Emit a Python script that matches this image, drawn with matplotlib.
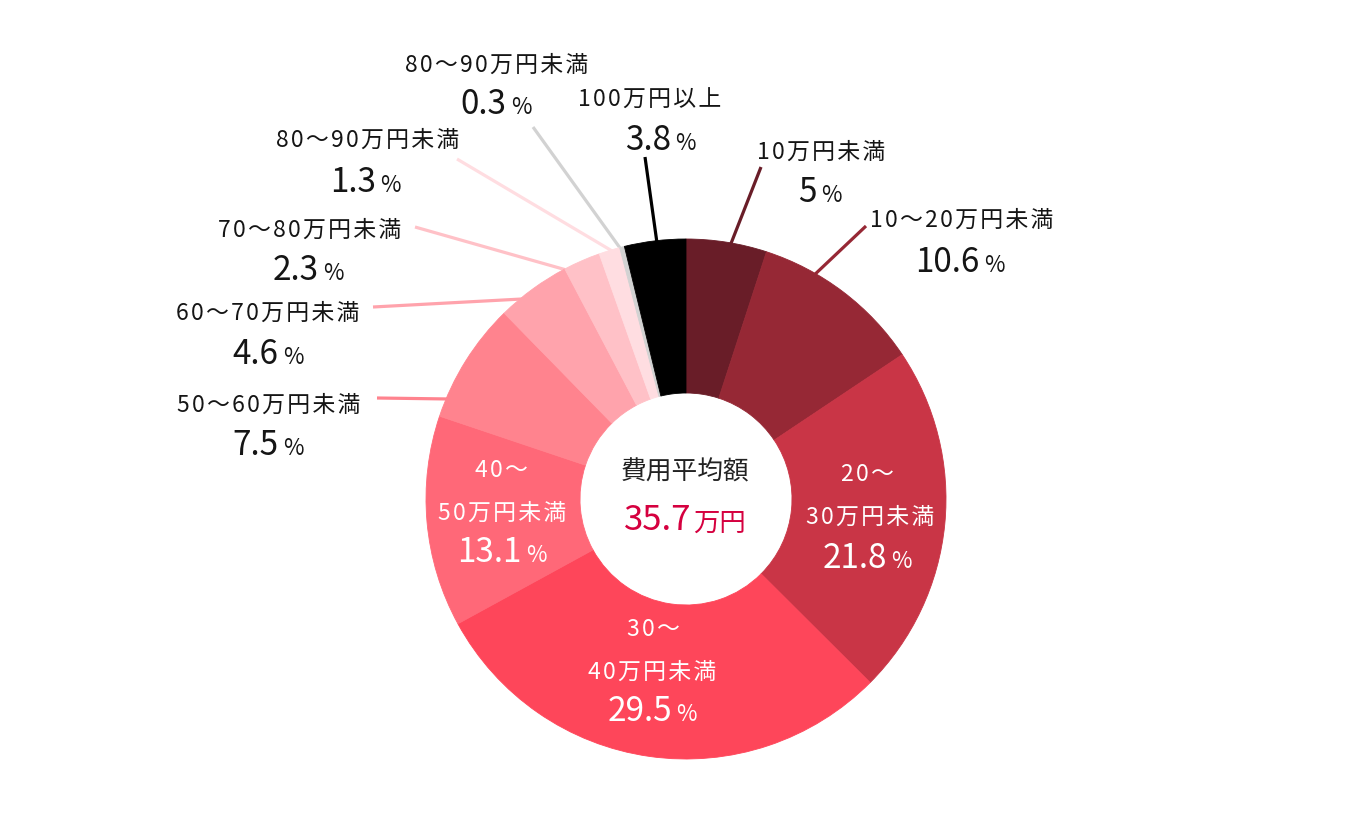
import numpy as np
import matplotlib
matplotlib.use("Agg")
import matplotlib.pyplot as plt
from matplotlib.offsetbox import TextArea, HPacker, AnnotationBbox

plt.rcParams['font.family'] = ['Noto Sans CJK JP', 'DejaVu Sans']

# data
categories = ["10万円未満", "10～20万円未満", "20～30万円未満", "30～40万円未満",
              "40～50万円未満", "50～60万円未満", "60～70万円未満", "70～80万円未満",
              "80～90万円未満", "80～90万円未満", "100万円以上"]
shares = [5, 10.6, 21.8, 29.5, 13.1, 7.5, 4.6, 2.3, 1.3, 0.3, 3.8]
colors = ["#691D28", "#962835", "#C93546", "#FE465A", "#FF6878", "#FF838E",
          "#FFA3AC", "#FFC1C7", "#FFDDE1", "#D2D2D2", "#000000"]
avg_title = "費用平均額"
avg_value = 35.7
avg_unit = "万円"

W, H = 1370, 820
CX, CY = 686, 500          # donut centre (pixels, y down)
R_OUT, R_IN = 260, 106
TXT = "#151515"
RED = "#D5003F"
LBL = 16.5


def P(x, y):
    # picture coords (y down) -> axes coords (y up)
    return x, H - y


def spaced(s):
    # the reference uses slightly loose letter spacing
    return "\u200a".join(s)


fig = plt.figure(figsize=(W / 100, H / 100), dpi=100)
ax = fig.add_axes([0, 0, 1, 1])

wedges, _ = ax.pie(shares, colors=colors, startangle=90, counterclock=False,
                   radius=R_OUT, center=P(CX, CY),
                   wedgeprops=dict(width=R_OUT - R_IN, linewidth=0.6, zorder=3))
for w, c in zip(wedges, colors):
    w.set_edgecolor(c)
ax.set_xlim(0, W)
ax.set_ylim(0, H)
ax.set_aspect("equal")
ax.axis("off")


def pct_box(num, x, y, color, size=24, psize=16):
    a = TextArea(num, textprops=dict(fontsize=size, color=color))
    b = TextArea("%", textprops=dict(fontsize=psize, color=color))
    box = HPacker(children=[a, b], align="baseline", pad=0, sep=3)
    ab = AnnotationBbox(box, P(x, y), frameon=False, box_alignment=(0.5, 0.5), zorder=5)
    ax.add_artist(ab)


# outside labels: index -> (title xy, number xy, leader end xy, leader position within wedge)
outside = {
    0: ((821, 152), (820, 193), (761, 168), 0.54),
    1: ((962, 220), (960, 262), (866, 227), 0.30),
    5: ((269, 405), (268, 446), (377, 399), 0.17),
    6: ((268, 313), (268, 355), (373, 308), 0.39),
    7: ((310, 230), (308, 270), (415, 228), 0.15),
    8: ((368, 140), (365, 182), (457, 160), 0.83),
    9: ((497, 65), (496, 105), (533, 128), 0.5),
    10: ((650, 100), (660, 140), (645, 158), 0.53),
}
for i, (t_xy, n_xy, e_xy, frac) in outside.items():
    w = wedges[i]
    ang = np.deg2rad(w.theta2 - frac * (w.theta2 - w.theta1))
    sx = CX + (R_OUT - 6) * np.cos(ang)
    sy = CY - (R_OUT - 6) * np.sin(ang)
    ax.plot([P(sx, sy)[0], P(*e_xy)[0]], [P(sx, sy)[1], P(*e_xy)[1]],
            color=colors[i], lw=2.3, solid_capstyle="butt", zorder=2)
    ax.text(*P(*t_xy), spaced(categories[i]), ha="center", va="center", fontsize=LBL, color=TXT)
    pct_box(f"{shares[i]:g}", *n_xy, TXT)

# inside labels: index -> (first line xy, second line xy, number xy)
inside = {
    2: ((867, 475), (870, 517), (867, 558)),
    3: ((653, 630), (652, 672), (652, 712)),
    4: ((501, 471), (502, 513), (502, 553)),
}
for i, (l1, l2, n_xy) in inside.items():
    head, tail = categories[i].split("～")
    ax.text(*P(*l1), spaced(head + "～"), ha="center", va="center", fontsize=LBL, color="white")
    ax.text(*P(*l2), spaced(tail), ha="center", va="center", fontsize=LBL, color="white")
    pct_box(f"{shares[i]:g}", *n_xy, "white")

# centre
ax.text(*P(685, 473), avg_title, ha="center", va="center", fontsize=18.5, color="#222222")
a = TextArea(f"{avg_value:g}", textprops=dict(fontsize=25, color=RED))
b = TextArea(avg_unit, textprops=dict(fontsize=19, color=RED))
box = HPacker(children=[a, b], align="baseline", pad=0, sep=1)
ax.add_artist(AnnotationBbox(box, P(685, 521), frameon=False, box_alignment=(0.5, 0.5), zorder=5))

fig.savefig("out.png", dpi=100, facecolor="white")
